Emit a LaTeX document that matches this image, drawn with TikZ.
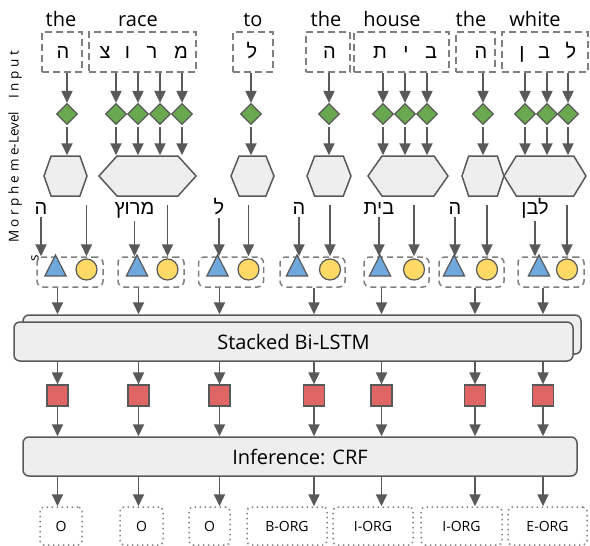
\documentclass[tikz,border=0pt]{standalone}
\usepackage{fontspec}
\setmainfont{Open Sans}
\newfontfamily\heb[Script=Hebrew]{Liberation Sans}
\TeXXeTstate=1
\usetikzlibrary{shapes.geometric,shapes.symbols,arrows.meta}
\definecolor{linegray}{HTML}{595959}
\definecolor{boxgray}{HTML}{EEEEEE}
\definecolor{dashgray}{HTML}{7F7F7F}
\definecolor{mgreen}{HTML}{6AA84F}
\definecolor{mblue}{HTML}{6FA8DC}
\definecolor{myellow}{HTML}{FFD966}
\definecolor{mred}{HTML}{E06666}

\begin{document}
\begin{tikzpicture}[x=1pt,y=-1pt,
		every node/.style={inner sep=0pt},
		arr/.style={draw=linegray,line width=1.9pt,-{Triangle[width=11pt,length=12pt]}},
		word/.style={font=\fontsize{20}{24}\selectfont,anchor=base},
		hebrew/.style={font=\heb\fontsize{20}{24}\selectfont,anchor=base},
		inbox/.style={draw=dashgray,line width=1.5pt,dash pattern=on 7pt off 4pt,minimum height=40pt},
		gem/.style={diamond,draw=linegray,line width=1.2pt,fill=mgreen,minimum size=21pt},
		hexa/.style={signal,signal to=west and east,draw=linegray,line width=1.5pt,fill=boxgray,minimum height=40pt},
		grp/.style={draw=dashgray,line width=1.5pt,dash pattern=on 6pt off 4pt,rounded corners=6pt,minimum height=30pt},
		tri/.style={isosceles triangle,isosceles triangle apex angle=54,shape border rotate=90,draw=linegray,line width=1.2pt,fill=mblue,minimum size=21pt},
		ball/.style={circle,draw=linegray,line width=1.2pt,fill=myellow,minimum size=21pt},
		cell/.style={rectangle,draw=linegray,line width=1.2pt,fill=mred,minimum size=21pt},
		band/.style={rectangle,draw=linegray,line width=1.5pt,fill=boxgray,rounded corners=6pt,minimum height=39pt,font=\fontsize{20}{24}\selectfont},
		tag/.style={draw=dashgray,line width=1.5pt,dash pattern=on 1.5pt off 3.5pt,rounded corners=4pt,minimum height=38pt,font=\fontsize{14}{17}\selectfont}]
	\useasboundingbox (0,0) rectangle (590,546);
	% side label
	\node[rotate=90,font=\fontsize{13.5}{16}\selectfont] (side) at (15,147) {M o r p h e m e-Level\quad I n p u t};
	\node[rotate=90,font=\fontsize{13.5}{16}\selectfont] (sides) at (35,258) {s};
	% words
	\node[word] (w1) at (61,27) {the};
	\node[word] (w2) at (138,27) {race};
	\node[word] (w3) at (253,27) {to};
	\node[word] (w4) at (326,27) {the};
	\node[word] (w5) at (392,27) {house};
	\node[word] (w6) at (471,27) {the};
	\node[word] (w7) at (535,27) {white};
	% input boxes
	\node[inbox,minimum width=40pt] (in1) at (62,52) {};
	\node[inbox,minimum width=107pt] (in2) at (142.5,52) {};
	\node[inbox,minimum width=40pt] (in3) at (253,52) {};
	\node[inbox,minimum width=44pt] (in4) at (328,52) {};
	\node[inbox,minimum width=95pt] (in5) at (401.5,52) {};
	\node[inbox,minimum width=39pt] (in6) at (475.5,52) {};
	\node[inbox,minimum width=86pt] (in7) at (545,52) {};
	\foreach \n/\x/\c in {1/63/ה,2/105/צ,3/127.5/ו,4/152/ר,5/181/מ,6/252/ל,7/329.5/ה,
			8/380/ת,9/406/י,10/431/ב,11/481/ה,12/522/ן,13/544/ב,14/571/ל}
		\node[hebrew] (ch\n) at (\x,59) {\beginR\c\endR};
	% hexagons
	\node[hexa,minimum width=43pt,signal pointer angle=141] (h1) at (65.5,176) {};
	\node[hexa,minimum width=97pt,signal pointer angle=96] (h2) at (147.5,176) {};
	\node[hexa,minimum width=43pt,signal pointer angle=136] (h3) at (252.5,176) {};
	\node[hexa,minimum width=44pt,signal pointer angle=138] (h4) at (329,176) {};
	\node[hexa,minimum width=80pt,signal pointer angle=110] (h5) at (408,176) {};
	\node[hexa,minimum width=42pt,signal pointer angle=143] (h6) at (483,176) {};
	\node[hexa,minimum width=82pt,signal pointer angle=117] (h7) at (545,176) {};
	% morphemes
	\foreach \d/\x/\b in {1/67/1,2/116/2,3/138/2,4/160/2,5/182/2,6/251/3,7/329/4,
			8/383/5,9/405/5,10/427/5,11/483/6,12/525/7,13/547/7,14/568/7} {
		\node[gem] (d\d) at (\x,114) {};
		\draw[arr] (d\d |- in\b.south) -- (d\d.north);
		\draw[arr,shorten <=2pt] (d\d.south) -- (d\d |- h\b.north);
	}
	\node[hebrew] (m1) at (41,214) {\beginR ה\endR};
	\node[hebrew] (m2) at (134.5,214) {\beginR מרוץ\endR};
	\node[hebrew] (m3) at (219,214) {\beginR ל\endR};
	\node[hebrew] (m4) at (299,214) {\beginR ה\endR};
	\node[hebrew] (m5) at (379,214) {\beginR בית\endR};
	\node[hebrew] (m6) at (455,214) {\beginR ה\endR};
	\node[hebrew] (m7) at (535,214) {\beginR לבן\endR};
	% embeddings
	\foreach \i/\gx/\gw/\tx/\cx in {1/70/66/55.5/86.5,2/151/66/137/167.5,3/231/65/217.5/248.5,
			4/312.5/65/297/330,5/396.5/65/380/414,6/471.5/65/454/487,7/551/66/539/567} {
		\node[grp,minimum width=\gw pt] (g\i) at (\gx,272) {};
		\node[tri] (t\i) at (\tx,269.5) {};
		\node[ball] (c\i) at (\cx,269.5) {};
		\draw[arr,shorten <=3pt] (m\i.south) -- (m\i |- g\i.north);
		\draw[arr,shorten <=8pt] (c\i |- h\i.south) -- (c\i |- g\i.north);
	}
	% layers
	\node[band,minimum width=558pt] (lstmb) at (302,334.5) {};
	\node[band,minimum width=559pt] (lstm) at (293.5,341.5) {Stacked Bi-LSTM};
	\node[band,minimum width=554pt] (crf) at (300,456.5) {Inference: CRF};
	\node[tag,minimum width=42pt] (o1) at (61,526) {O};
	\node[tag,minimum width=43pt] (o2) at (141.5,526) {O};
	\node[tag,minimum width=41pt] (o3) at (209.5,526) {O};
	\node[tag,minimum width=80pt] (o4) at (287,526) {B-ORG};
	\node[tag,minimum width=80pt] (o5) at (373,526) {I-ORG};
	\node[tag,minimum width=81pt] (o6) at (461.5,526) {I-ORG};
	\node[tag,minimum width=79pt] (o7) at (547.5,526) {E-ORG};
	\foreach \i/\x in {1/57.5,2/138.5,3/219.5,4/314,5/381.5,6/475,7/543} {
		\node[cell] (k\i) at (\x,395.5) {};
		\draw[arr] (k\i |- g\i.south) -- (k\i |- lstmb.north);
		\draw[arr] (k\i |- lstm.south) -- (k\i.north);
		\draw[arr] (k\i.south) -- (k\i |- crf.north);
		\draw[arr] (k\i |- crf.south) -- (k\i |- o\i.north);
	}
\end{tikzpicture}
\end{document}
